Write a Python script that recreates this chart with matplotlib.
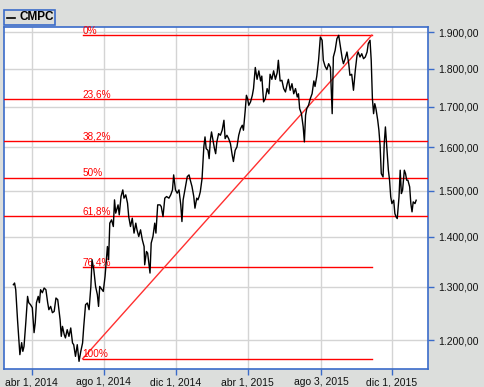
import numpy as np
import matplotlib
matplotlib.use("Agg")
import matplotlib.pyplot as plt
import matplotlib.dates as mdates
from matplotlib.ticker import FixedLocator, NullLocator, NullFormatter
from matplotlib.transforms import offset_copy
from matplotlib.patches import Rectangle
from matplotlib.lines import Line2D

plt.rcParams['font.family'] = ['Liberation Sans', 'DejaVu Sans']

# ---------------- data ----------------
base_date = "2014-04-01"
days_a = [-31,-29,-27,-24,-20,-17,-15,-13,-10,-7,-5,-2,1,4,6,8,11,13,15,18,21,24,27,29,32,
          35,38,41,44,48,50,52,55,57,60,63,66,69,71,74,77,80,83,86,88,91,94,97,100,102,105,108,111,113,115]
close_a = [1303.5,1306.8,1293.8,1237.2,1174.3,1195.5,1180.1,1188.9,1231.7,1281.0,1269.0,1265.2,1259.5,1213.5,1231.7,
           1269.0,1281.0,1269.0,1293.8,1288.0,1297.1,1293.8,1269.0,1255.8,1262.0,1250.2,1252.6,1277.9,1274.7,1237.2,
           1206.8,1224.9,1209.9,1204.0,1218.9,1206.8,1222.0,1194.9,1191.9,1171.3,1191.9,1162.6,1180.1,1194.9,1224.9,
           1265.2,1268.4,1255.8,1300.2,1353.0,1333.0,1300.2,1284.2,1262.0,1300.2]
days_b = [121,124,128,130,132,135,138,140,142,146,148,151,154,156,159,162,164,167,170,173,176,178,181,184,187,
          190,191,194,196,200,202,205,208,210,213,217,219,222,225,228,232,235,238,240,243,246,249,252,254,256,
          260,263,266,268,271,274,276,279,281,283]
close_b = [1290.5,1319.8,1380.0,1353.0,1429.0,1436.0,1421.8,1479.5,1450.5,1468.5,1446.8,1486.9,1501.7,1483.3,1490.6,
           1472.2,1443.1,1421.8,1439.6,1407.9,1429.0,1414.8,1400.8,1414.8,1393.9,1380.0,1342.9,1369.8,1366.6,1326.4,
           1387.0,1400.8,1429.0,1407.9,1468.5,1468.5,1464.7,1443.1,1483.3,1486.9,1483.3,1490.6,1501.7,1535.7,1501.7,
           1494.4,1501.7,1468.5,1432.4,1479.5,1509.2,1531.8,1535.7,1524.3,1509.2,1486.9,1461.3,1483.3,1479.5,1486.9]
days_c = [285,288,291,293,295,298,300,302,304,307,309,311,313,316,319,322,325,327,330,333,336,339,341,344,347,
          350,353,356,358,361,363,365,367,370,373,375,378,381,384,387,389,392,395,398,401,403,406,409,412,415,
          417,420,423,426,429,432,434,437,440,443,446,449,451,453,456,459,461,463,465,468]
close_c = [1497.3,1527.3,1601.2,1625.3,1597.1,1593.2,1573.4,1617.3,1637.4,1613.2,1597.1,1585.1,1613.2,1633.3,1629.3,
           1641.6,1666.2,1621.2,1629.3,1621.2,1609.1,1581.5,1566.7,1593.2,1601.2,1629.3,1645.5,1653.9,1641.6,1691.3,
           1729.5,1720.9,1703.9,1712.6,1729.5,1746.9,1802.8,1771.2,1793.8,1766.9,1779.8,1712.6,1720.9,1746.9,1733.4,
           1784.6,1771.2,1793.8,1771.2,1788.6,1822.3,1766.9,1768.7,1746.9,1738.1,1759.7,1771.2,1742.5,1759.7,1733.4,
           1746.9,1725.1,1733.4,1695.3,1682.7,1649.7,1613.2,1678.6,1695.3,1703.9]
days_d = [471,474,477,479,482,485,488,491,493,496,499,502,505,508,510,513,516,519,522,525,527,530,533,536,538,
          541,544,547,550,552,555,558,561,564,567,569,572,574,576,578,580,582,585,587,589,591,594,596,598,600,
          603,605,607,609,612,614,616,618,621,623,625,627,630,632,634,636,639,641,643,645,648,650]
close_d = [1720.9,1733.4,1766.9,1752.4,1779.8,1822.3,1886.7,1877.5,1822.3,1806.0,1797.1,1813.0,1802.8,1682.7,1831.3,
           1849.7,1881.8,1891.5,1858.8,1826.6,1813.0,1826.6,1844.9,1813.0,1781.9,1784.6,1742.5,1793.8,1835.9,1844.9,
           1831.3,1840.2,1826.6,1831.3,1844.9,1868.0,1877.5,1822.3,1720.9,1682.7,1708.0,1695.3,1666.2,1641.6,1604.3,
           1538.7,1531.0,1609.1,1649.7,1609.1,1546.5,1523.6,1486.2,1471.3,1478.8,1449.6,1442.5,1438.8,1486.2,1546.5,
           1493.5,1501.0,1546.5,1538.7,1523.6,1523.6,1508.5,1471.3,1453.3,1475.1,1471.3,1478.8]

series_name = "CMPC"
fib_low_date, fib_low = "2014-06-26", 1167.0
fib_high_date, fib_high = "2015-10-28", 1892.0
fib_pcts = [0.0, 0.236, 0.382, 0.5, 0.618, 0.764, 1.0]
fib_labels = ["0%", "23,6%", "38,2%", "50%", "61,8%", "76,4%", "100%"]
fib_full = [False, True, True, True, True, False, False]

y_ticks = [1200, 1300, 1400, 1500, 1600, 1700, 1800, 1900]
y_labels = ["1.200,00", "1.300,00", "1.400,00", "1.500,00", "1.600,00", "1.700,00", "1.800,00", "1.900,00"]
x_ticks = ["2014-04-01", "2014-08-01", "2014-12-01", "2015-04-01", "2015-08-03", "2015-12-01"]
x_labels = ["abr 1, 2014", "ago 1, 2014", "dic 1, 2014", "abr 1, 2015", "ago 3, 2015", "dic 1, 2015"]

# ---------------- build ----------------
days = np.array(days_a + days_b + days_c + days_d)
close = np.array(close_a + close_b + close_c + close_d)
dates = np.datetime64(base_date) + days.astype('timedelta64[D]')

BG = '#DCDEDC'
BLUE = '#3A6BC9'
GRID = '#D4D4D4'
RED = '#FF0000'

fig = plt.figure(figsize=(4.85, 3.87), dpi=100, facecolor=BG)
W, H = 485, 387
ax = fig.add_axes([4.5 / W, (H - 369) / H, (428 - 4.5) / W, (369 - 27) / H])
ax.set_facecolor('white')

ax.set_yscale('log')
ax.set_ylim(1149.4, 1915.1)
ax.set_xlim(np.datetime64(base_date) - np.timedelta64(46, 'D'),
            np.datetime64(base_date) + np.timedelta64(670, 'D'))

ax.yaxis.set_major_locator(FixedLocator(y_ticks))
ax.yaxis.set_minor_locator(NullLocator())
ax.yaxis.set_minor_formatter(NullFormatter())
ax.set_yticklabels(y_labels)
ax.yaxis.tick_right()
ax.set_xticks([mdates.date2num(np.datetime64(d)) for d in x_ticks])
ax.set_xticklabels(x_labels)

for s in ax.spines.values():
    s.set_color(BLUE)
    s.set_linewidth(1.2)
ax.tick_params(axis='both', colors=BLUE, length=4, width=1, labelcolor='#111111', labelsize=7.5)
ax.tick_params(axis='y', pad=3)
ax.tick_params(axis='x', pad=2)

ax.grid(True, color=GRID, linewidth=1)
ax.set_axisbelow(True)

# Fibonacci levels
d_lo = np.datetime64(fib_low_date)
d_hi = np.datetime64(fib_high_date)
rng = fib_high - fib_low
lab_tr = offset_copy(ax.transData, fig=fig, x=0, y=1.5, units='dots')
for p, lab, full in zip(fib_pcts, fib_labels, fib_full):
    lvl = fib_high - p * rng
    if full:
        ax.axhline(lvl, color=RED, linewidth=1, zorder=3)
    else:
        ax.plot([d_lo, d_hi], [lvl, lvl], color=RED, linewidth=1, zorder=3)
    ax.text(d_lo, lvl, lab, color=RED, fontsize=7.2, ha='left', va='baseline',
            transform=lab_tr, zorder=4)

# trend line
ax.plot([d_lo, d_hi], [fib_low, fib_high], color='#FF3030', linewidth=1, zorder=3)

# price series
ax.plot(dates, close, color='black', linewidth=1.0, zorder=5)

# legend box
fig.patches.append(Rectangle((4.5 / W, (H - 25) / H), 51 / W, 15 / H, transform=fig.transFigure,
                             facecolor=BG, edgecolor=BLUE, linewidth=1.2))
fig.lines.append(Line2D([7.5 / W, 15.5 / W], [(H - 17.5) / H] * 2, transform=fig.transFigure,
                        color='black', linewidth=1.2))
fig.text(19.5 / W, (H - 17.5) / H, series_name, fontsize=8.5, fontweight='bold',
         ha='left', va='center', color='black')

fig.savefig('out.png', dpi=100, facecolor=BG)
